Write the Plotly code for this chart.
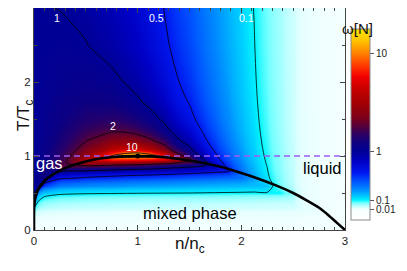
import numpy as np
import plotly.graph_objects as go

# ---------------- data ----------------
n_vals = [0, 0.05, 0.1, 0.25, 0.5, 0.75, 0.875, 1.0, 1.125, 1.25, 1.5, 1.625, 1.75, 1.875,
          2.0, 2.125, 2.25, 2.375, 2.5, 2.75, 3.0]
T_vals = [0, 0.1, 0.2, 0.3, 0.4, 0.5, 0.6, 0.7, 0.8, 0.85, 0.9, 0.95, 1.0, 1.05, 1.1, 1.2, 1.35, 1.5, 1.75, 2.0, 2.5, 3.0]

# scaled variance omega[N], one row per T value
w_T000 = [0, 0, 0, 0, 0, 0, 0, 0, 0, 0, 0, 0, 0, 0, 0, 0, 0, 0, 0, 0, 0]
w_T010 = [0.01, 0.004, 0.004, 0.004, 0.004, 0.004, 0.004, 0.004, 0.004, 0.004, 0.004, 0.004, 0.004, 0.004, 0.004, 0.0035, 0.0035, 0.0035, 0.0035, 0.003, 0]
w_T020 = [0.03, 0.018, 0.015, 0.013, 0.012, 0.012, 0.012, 0.012, 0.012, 0.012, 0.012, 0.0115, 0.011, 0.011, 0.011, 0.011, 0.011, 0.0105, 0.01, 0.008, 0]
w_T030 = [0.1, 0.05, 0.04, 0.034, 0.032, 0.031, 0.03, 0.03, 0.03, 0.03, 0.029, 0.0285, 0.028, 0.0275, 0.027, 0.0265, 0.026, 0.0255, 0.025, 0.012, 0]
w_T040 = [0.3, 0.1, 0.075, 0.06, 0.055, 0.052, 0.051, 0.05, 0.049, 0.048, 0.047, 0.0465, 0.046, 0.0455, 0.045, 0.044, 0.043, 0.042, 0.04, 0.0078, 0]
w_T050 = [1.0, 0.2, 0.15, 0.12, 0.11, 0.107, 0.105, 0.104, 0.103, 0.102, 0.1, 0.099, 0.098, 0.097, 0.096, 0.095, 0.097, 0.1, 0.06, 0.0076, 0]
w_T060 = [1.0, 1.18, 0.4, 0.26, 0.23, 0.215, 0.207, 0.2, 0.195, 0.19, 0.18, 0.175, 0.17, 0.165, 0.16, 0.155, 0.15, 0.0708, 0.0376, 0.0075, 0]
w_T070 = [1.0, 1.145, 1.335, 0.55, 0.47, 0.43, 0.41, 0.4, 0.385, 0.37, 0.34, 0.325, 0.31, 0.295, 0.28, 0.2, 0.114, 0.0649, 0.0358, 0.0074, 0]
w_T080 = [1.0, 1.119, 1.267, 1.1, 1.0, 0.92, 0.88, 0.85, 0.82, 0.78, 0.7, 0.65, 0.6, 0.55, 0.296, 0.1731, 0.103, 0.0611, 0.0345, 0.0073, 0]
w_T085 = [1.0, 1.109, 1.241, 1.893, 1.7, 1.55, 1.48, 1.4, 1.3, 1.2, 1.0, 0.9, 0.8, 0.4656, 0.27, 0.1631, 0.0996, 0.0597, 0.034, 0.0073, 0]
w_T090 = [1.0, 1.1, 1.219, 1.77, 3.0, 2.8, 2.7, 2.6, 2.4, 2.2, 1.7, 1.45, 0.722, 0.4126, 0.25, 0.1552, 0.0964, 0.0585, 0.0336, 0.0073, 0]
w_T095 = [1.0, 1.092, 1.2, 1.672, 3.909, 6.5, 6.2, 6.0, 5.6, 5.0, 2.235, 1.097, 0.619, 0.3745, 0.2346, 0.1488, 0.0937, 0.0574, 0.0333, 0.0073, 0]
w_T100 = [1.0, 1.085, 1.183, 1.593, 3.175, 11.07, 16, 16, 16, 7.918, 1.6, 0.9058, 0.549, 0.3457, 0.222, 0.1434, 0.0914, 0.0565, 0.0329, 0.0073, 0]
w_T105 = [1.0, 1.079, 1.168, 1.528, 2.713, 5.858, 8.467, 9.333, 6.698, 3.843, 1.273, 0.7823, 0.498, 0.3233, 0.212, 0.1389, 0.0895, 0.0557, 0.0326, 0.0072, 0]
w_T110 = [1.0, 1.073, 1.155, 1.473, 2.396, 4.103, 4.919, 4.889, 3.862, 2.618, 1.073, 0.6962, 0.459, 0.3053, 0.204, 0.135, 0.0877, 0.055, 0.0324, 0.0072, 0]
w_T120 = [1.0, 1.063, 1.133, 1.386, 1.99, 2.691, 2.837, 2.667, 2.219, 1.68, 0.842, 0.5836, 0.403, 0.2781, 0.19, 0.1287, 0.0849, 0.0538, 0.0319, 0.0072, 0]
w_T135 = [1.0, 1.052, 1.107, 1.293, 1.648, 1.895, 1.87, 1.714, 1.46, 1.169, 0.667, 0.4873, 0.352, 0.2509, 0.176, 0.1218, 0.0816, 0.0524, 0.0314, 0.0072, 0]
w_T150 = [1.0, 1.043, 1.087, 1.227, 1.449, 1.532, 1.469, 1.333, 1.146, 0.94, 0.571, 0.4305, 0.319, 0.2326, 0.167, 0.1167, 0.0792, 0.0513, 0.031, 0.0072, 0]
w_T175 = [1.0, 1.031, 1.062, 1.151, 1.255, 1.229, 1.152, 1.037, 0.898, 0.751, 0.483, 0.3744, 0.285, 0.2127, 0.156, 0.1108, 0.0763, 0.05, 0.0305, 0.0071, 0]
w_T200 = [1.0, 1.022, 1.044, 1.1, 1.14, 1.071, 0.991, 0.889, 0.773, 0.652, 0.432, 0.341, 0.264, 0.1999, 0.148, 0.1068, 0.0742, 0.0491, 0.0301, 0.0071, 0]
w_T250 = [1.0, 1.011, 1.02, 1.036, 1.01, 0.907, 0.829, 0.741, 0.646, 0.551, 0.377, 0.3032, 0.239, 0.1844, 0.139, 0.1016, 0.0716, 0.0478, 0.0296, 0.0071, 0]
w_T300 = [1.0, 1.003, 1.005, 0.997, 0.939, 0.823, 0.748, 0.667, 0.583, 0.5, 0.348, 0.2824, 0.225, 0.1753, 0.133, 0.0984, 0.0699, 0.047, 0.0293, 0.0071, 0]

omega_rows = [w_T000, w_T010, w_T020, w_T030, w_T040, w_T050, w_T060, w_T070, w_T080, w_T085,
              w_T090, w_T095, w_T100, w_T105, w_T110, w_T120, w_T135, w_T150, w_T175, w_T200,
              w_T250, w_T300]

contour_levels = [10, 2, 1, 0.5, 0.1]
contour_label_text = ["1", "0.5", "0.1", "2", "10"]
contour_label_n = [0.224, 1.18, 2.05, 0.766, 0.946]
contour_label_T = [2.868, 2.864, 2.864, 1.408, 1.125]

# coexistence curve (gas and liquid branch)
binodal_T = [0, 0.1, 0.2, 0.3, 0.4, 0.5, 0.6, 0.7, 0.8, 0.85, 0.9, 0.95, 0.98, 0.995, 1.0]
binodal_n_gas = [0, 0, 0.0001, 0.0015, 0.0085, 0.027, 0.065, 0.13, 0.245, 0.325, 0.43, 0.57, 0.72, 0.86, 1.0]
binodal_n_liq = [3.0, 2.92, 2.84, 2.75, 2.63, 2.50, 2.34, 2.15, 1.93, 1.81, 1.66, 1.45, 1.29, 1.14, 1.0]

critical_n = [1.0]
critical_T = [1.0]

region_text = ["gas", "liquid", "mixed phase"]
region_n = [0.145, 2.78, 1.50]
region_T = [0.90, 0.835, 0.23]
region_color = ["white", "black", "black"]

cbar_tick_values = [0.01, 0.1, 1, 10]
cbar_tick_text = ["0.01", "0.1", "1", "10"]
axis_ticks = [0, 1, 2, 3]

# ---------------- colour mapping ----------------
OFFSET = 0.45
S_MIN, S_MAX = -0.4326, 1.2272
W_MAX = 10 ** S_MAX - OFFSET
W_MIN = 0.001

palette = [
    [0.0, "#FFFFFF"], [0.05, "#F8FFFF"], [0.06, "#E6FFFF"], [0.07, "#C6FFFF"],
    [0.09, "#70FFFF"], [0.104, "#00F6FF"], [0.118, "#00D4FF"], [0.156, "#0090FF"],
    [0.202, "#0052FF"], [0.247, "#0018F0"], [0.308, "#0000C4"], [0.358, "#000096"],
    [0.40, "#0C0082"], [0.44, "#26006A"], [0.47, "#40004E"], [0.50, "#5E0032"],
    [0.54, "#7E0018"], [0.59, "#98000A"], [0.65, "#B40000"], [0.70, "#D00000"],
    [0.75, "#F00000"], [0.80, "#FF3000"], [0.875, "#FF8400"], [0.94, "#FFC400"],
    [1.0, "#FFE600"],
]


def hex2rgb(h):
    h = h.lstrip("#")
    return np.array([int(h[i:i + 2], 16) for i in (0, 2, 4)], dtype=float)


pal_p = np.array([p for p, _ in palette])
pal_rgb = np.array([hex2rgb(c) for _, c in palette])


def color_at(p):
    p = min(max(p, 0.0), 1.0)
    r = np.interp(p, pal_p, pal_rgb[:, 0])
    g = np.interp(p, pal_p, pal_rgb[:, 1])
    b = np.interp(p, pal_p, pal_rgb[:, 2])
    return "rgb(%d,%d,%d)" % (round(r), round(g), round(b))


def s_of(w):
    return np.log10(np.asarray(w, dtype=float) + OFFSET)


# heatmap drawn in 1/omega (smooth field), colour scale rebuilt on that variable
W = np.array(omega_rows, dtype=float)
Q_MIN, Q_MAX = 1.0 / W_MAX, 1.0 / W_MIN
Q = 1.0 / np.clip(W, W_MIN, W_MAX)

s_samples = np.linspace(S_MAX, float(s_of(W_MIN)), 700)
cs_q = []
for s in s_samples:
    w = 10 ** s - OFFSET
    q = 1.0 / w
    pos = (q - Q_MIN) / (Q_MAX - Q_MIN)
    pos = min(max(pos, 0.0), 1.0)
    cs_q.append([pos, color_at((s - S_MIN) / (S_MAX - S_MIN))])
cs_q[0][0] = 0.0
clean = [cs_q[0]]
for item in cs_q[1:]:
    if item[0] > clean[-1][0]:
        clean.append(item)
clean[-1][0] = 1.0
cs_q = clean

FONT = "Liberation Sans, Arial, Helvetica, sans-serif"

fig = go.Figure()

fig.add_trace(go.Heatmap(
    x=n_vals, y=T_vals, z=Q, zmin=Q_MIN, zmax=Q_MAX, colorscale=cs_q,
    zsmooth="best", showscale=False, hoverinfo="skip"))

for lev in contour_levels:
    fig.add_trace(go.Contour(
        x=n_vals, y=T_vals, z=Q, autocontour=False,
        contours=dict(start=1.0 / lev, end=1.0 / lev, size=1.0, coloring="none"),
        line=dict(color="black", width=0.8, smoothing=0.6),
        showscale=False, hoverinfo="skip"))

# critical temperature line
fig.add_trace(go.Scatter(
    x=[n_vals[0], n_vals[-1]], y=[critical_T[0], critical_T[0]], mode="lines",
    line=dict(color="#9A5CF0", width=1.5, dash="6px,4px"), hoverinfo="skip", showlegend=False))

# coexistence curve
bx = binodal_n_gas + binodal_n_liq[-2::-1]
by = binodal_T + binodal_T[-2::-1]
fig.add_trace(go.Scatter(
    x=bx, y=by, mode="lines", line=dict(color="black", width=2.6, shape="spline", smoothing=0.5),
    hoverinfo="skip", showlegend=False, cliponaxis=False))

fig.add_trace(go.Scatter(
    x=critical_n, y=critical_T, mode="markers", marker=dict(color="black", size=5),
    hoverinfo="skip", showlegend=False))

# colour bar carrier
fig.add_trace(go.Scatter(
    x=[-1], y=[-1], mode="markers", hoverinfo="skip", showlegend=False,
    marker=dict(color=[S_MIN], cmin=S_MIN, cmax=S_MAX, colorscale=palette, showscale=True,
                size=1, opacity=0,
                colorbar=dict(
                    tickvals=list(s_of(cbar_tick_values)), ticktext=cbar_tick_text,
                    x=1.019, xanchor="left", xpad=0, ypad=0,
                    y=0.475, yanchor="middle", len=0.860, lenmode="fraction",
                    thickness=19, thicknessmode="pixels",
                    outlinewidth=1, outlinecolor="#8a8a8a",
                    ticks="outside", ticklen=4, tickwidth=1, tickcolor="#555",
                    tickfont=dict(size=10, color="#222", family=FONT)))))

annotations = []
for t, n, T in zip(contour_label_text, contour_label_n, contour_label_T):
    annotations.append(dict(x=n, y=T, xref="x", yref="y", text=t, showarrow=False,
                            font=dict(size=10.5, color="white", family=FONT)))
for t, n, T, c in zip(region_text, region_n, region_T, region_color):
    annotations.append(dict(x=n, y=T, xref="x", yref="y", text=t, showarrow=False,
                            font=dict(size=16.5, color=c, family=FONT)))
annotations.append(dict(x=1.0965, y=0.957, xref="paper", yref="paper", text="ω[N]",
                        showarrow=False, font=dict(size=15, color="#111", family=FONT)))
annotations.append(dict(x=0.5016, y=-0.126, xref="paper", yref="paper", text="n/n<sub>c</sub>",
                        showarrow=False, font=dict(size=17, color="#111", family=FONT)))
annotations.append(dict(x=-0.0707, y=0.518, xref="paper", yref="paper", text="T/T<sub>c</sub>",
                        textangle=-90, showarrow=False, font=dict(size=17, color="#111", family=FONT)))

axis_common = dict(
    range=[0, 3], tickvals=axis_ticks, ticks="inside", ticklen=5, tickwidth=1, tickcolor="#444",
    showline=True, linecolor="#444", linewidth=1, mirror="allticks",
    showgrid=False, zeroline=False, tickfont=dict(size=11.5, color="#222", family=FONT),
)

# the page body adds an 8 px offset, so the figure is sized to fit the window
fig.update_layout(
    width=399, height=263,
    margin=dict(l=26, r=62, t=0, b=41, autoexpand=False),
    paper_bgcolor="white", plot_bgcolor="white",
    showlegend=False,
    font=dict(family=FONT),
    xaxis=dict(**axis_common, minor=dict(dtick=0.1, ticks="inside", ticklen=3, tickcolor="#444")),
    yaxis=dict(**axis_common, minor=dict(dtick=0.5, ticks="inside", ticklen=3, tickcolor="#444")),
    annotations=annotations,
)

fig.write_html("out.html")
